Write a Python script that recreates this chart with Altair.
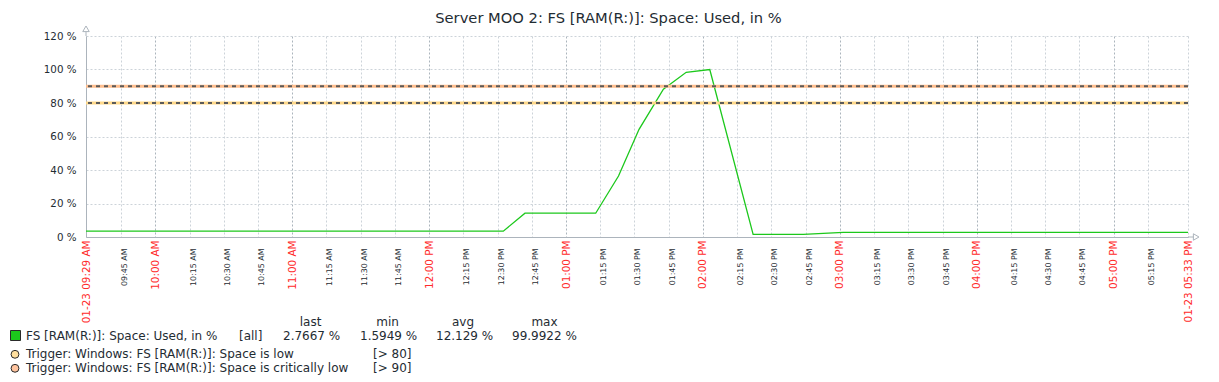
import altair as alt
import pandas as pd

DAY = "2024-01-23"
TITLE = "Server MOO 2: FS [RAM(R:)]: Space: Used, in %"

# ---- series ----
times = ["09:29:36", "12:32:30", "12:42:00", "13:13:00", "13:23:00", "13:32:00",
         "13:42:40", "13:52:40", "14:03:00", "14:22:00", "14:44:00", "15:01:30", "17:32:36"]
used_pct = [3.5, 3.5, 14.2, 14.2, 36.4, 64.3, 88.2, 98.3, 99.9922, 1.5949, 1.6, 2.7667, 2.7667]

# ---- axes ----
y_ticks = [0, 20, 40, 60, 80, 100, 120]
x_ticks = ["09:45", "10:00", "10:15", "10:30", "10:45", "11:00", "11:15", "11:30", "11:45",
           "12:00", "12:15", "12:30", "12:45", "13:00", "13:15", "13:30", "13:45",
           "14:00", "14:15", "14:30", "14:45", "15:00", "15:15", "15:30", "15:45",
           "16:00", "16:15", "16:30", "16:45", "17:00", "17:15"]
start_label = "01-23 09:29 AM"
end_label = "01-23 05:33 PM"

# ---- legend ----
series_name = "FS [RAM(R:)]: Space: Used, in %"
series_scope = "[all]"
stat_names = ["last", "min", "avg", "max"]
stat_values = ["2.7667 %", "1.5949 %", "12.129 %", "99.9922 %"]
trigger_names = ["Trigger: Windows: FS [RAM(R:)]: Space is low",
                 "Trigger: Windows: FS [RAM(R:)]: Space is critically low"]
trigger_values = [80, 90]
trigger_labels = ["[> 80]", "[> 90]"]

FONT = "DejaVu Sans"
DARK = "#1f2c33"
RED = "#ff2b2b"
GREEN = "#1cc81c"
AXIS = "#acb4bc"
GRID = "#ccd3d9"
GRID_MAJOR = "#abb4bc"
TRIG_FILL = ["#ffdf9e", "#ffc49f"]
TRIG_LINE = ["#ffd98a", "#ffbe8e"]


def dt(t):
    h, m, *s = [int(v) for v in t.split(":")]
    return alt.DateTime(year=2024, month=1, date=23, hours=h, minutes=m,
                        seconds=s[0] if s else 0)


def stamp(t):
    return f"{DAY} {t}" if t.count(":") == 2 else f"{DAY} {t}:00"


df = pd.DataFrame({"time": [stamp(t) for t in times], "value": used_pct})

x_scale = alt.Scale(domain=[dt(times[0]), dt(times[-1])], nice=False)
y_scale = alt.Scale(domain=[y_ticks[0], y_ticks[-1]], nice=False)

early = "time(datetime(2024,0,23,9,30))"
late = "time(datetime(2024,0,23,17,30))"
major = f"minutes(datum.value) == 0 || datum.value < {early} || datum.value > {late}"
hour = "minutes(datum.value) == 0"

x_axis = alt.Axis(
    values=[dt(times[0])] + [dt(t) for t in x_ticks] + [dt(times[-1])],
    labelExpr=(f"datum.value < {early} ? '{start_label}' : datum.value > {late} ? "
               f"'{end_label}' : timeFormat(datum.value, '%I:%M %p')"),
    labelAngle=-90,
    labelAlign="right",
    labelBaseline="middle",
    labelFont=FONT,
    labelColor={"condition": {"test": major, "value": RED}, "value": DARK},
    labelFontSize={"condition": {"test": major, "value": 10.4}, "value": 7.9},
    labelPadding={"condition": {"test": major, "value": 3}, "value": 11},
    labelOffset={"condition": {"test": major, "value": 0}, "value": 3.5},
    labelOverlap=False,
    labelFlush=False,
    ticks=False,
    tickSize=0,
    domainColor=AXIS,
    domainWidth=1,
    grid=True,
    gridColor={"condition": {"test": hour, "value": GRID_MAJOR}, "value": GRID},
    gridDash=[2, 2],
    gridWidth=1,
    title=None,
)

y_axis = alt.Axis(
    values=y_ticks,
    labelExpr="datum.value + ' %'",
    labelFont=FONT,
    labelFontSize=10.3,
    labelColor=DARK,
    labelPadding=10,
    labelOverlap=False,
    ticks=False,
    tickSize=0,
    domainColor=AXIS,
    domainWidth=1,
    grid=True,
    gridColor=GRID,
    gridDash=[2, 2],
    gridWidth=1,
    title=None,
)


def X(field):
    return alt.X(field, scale=x_scale, axis=x_axis)


def Y(field):
    return alt.Y(field, scale=y_scale, axis=y_axis)


line = alt.Chart(df).mark_line(color=GREEN, strokeWidth=1.3).encode(
    x=X("time:T"),
    y=Y("value:Q"),
)

trig_df = pd.DataFrame({"value": trigger_values, "name": trigger_names})
trig_base = alt.Chart(trig_df).mark_rule(strokeWidth=3).encode(
    y=Y("value:Q"),
    color=alt.Color("name:N", scale=alt.Scale(domain=trigger_names, range=TRIG_LINE), legend=None),
)
trig_dash = alt.Chart(trig_df).mark_rule(strokeWidth=2, color="#5a5a5a", strokeDash=[4, 4]).encode(
    y=Y("value:Q"),
)

# axis arrows
t_end = pd.Timestamp(stamp(times[-1]))
yarrow_df = pd.DataFrame({"time": [stamp(times[0])], "y": [120], "y2": [122.5], "tip": [124.3]})
xarrow_df = pd.DataFrame({"time": [stamp(times[-1])],
                          "time2": [(t_end + pd.Timedelta(seconds=150)).strftime("%Y-%m-%d %H:%M:%S")],
                          "tip": [(t_end + pd.Timedelta(seconds=215)).strftime("%Y-%m-%d %H:%M:%S")],
                          "y": [0]})
y_ext = alt.Chart(yarrow_df).mark_rule(color=AXIS, strokeWidth=1).encode(
    x=X("time:T"), y=Y("y:Q"), y2="y2:Q")
y_tip = alt.Chart(yarrow_df).mark_point(shape="triangle-up", filled=False, color=AXIS, size=42,
                                        strokeWidth=1, opacity=1).encode(
    x=X("time:T"), y=Y("tip:Q"))
x_ext = alt.Chart(xarrow_df).mark_rule(color=AXIS, strokeWidth=1).encode(
    x=X("time:T"), x2="time2:T", y=Y("y:Q"))
x_tip = alt.Chart(xarrow_df).mark_point(shape="triangle-right", filled=False, color=AXIS, size=42,
                                        strokeWidth=1, opacity=1).encode(
    x=X("tip:T"), y=Y("y:Q"))


def txt(text, x, y, size=12, align="left", color=DARK):
    return alt.Chart(pd.DataFrame({"t": [text]})).mark_text(
        align=align, baseline="middle", font=FONT, fontSize=size, color=color
    ).encode(x=alt.value(x), y=alt.value(y), text="t:N")


layers = [line, trig_base, trig_dash, y_ext, y_tip, x_ext, x_tip]

# title
layers.append(txt(TITLE, 522.5, -17, size=14.7, align="center"))

# legend header + series row
stat_centers = [224.6, 301.5, 377, 458.5]
stat_starts = [197, 274, 350, 426]
for name, cx in zip(stat_names, stat_centers):
    layers.append(txt(name, cx, 286, align="center"))
layers.append(
    alt.Chart(pd.DataFrame({"t": [series_name]})).mark_square(
        size=100, fill=GREEN, stroke="#2a2a2a", strokeWidth=1, opacity=1
    ).encode(x=alt.value(-70.5), y=alt.value(299.5))
)
layers.append(txt(series_name, -60, 299.5))
layers.append(txt(series_scope, 153, 299.5))
for v, sx in zip(stat_values, stat_starts):
    layers.append(txt(v, sx, 299.5))

# trigger rows
for i, (nm, lb) in enumerate(zip(trigger_names, trigger_labels)):
    yy = 318.3 + i * 14
    layers.append(
        alt.Chart(pd.DataFrame({"t": [nm]})).mark_circle(
            size=62, fill=TRIG_FILL[i], stroke="#2a2a2a", strokeWidth=1, opacity=1
        ).encode(x=alt.value(-71), y=alt.value(yy))
    )
    layers.append(txt(nm, -60, yy))
    layers.append(txt(lb, 287, yy))

chart = alt.layer(*layers).properties(
    width=1102,
    height=201,
    padding={"left": 78, "top": 28, "right": 16, "bottom": 139},
    autosize=alt.AutoSizeParams(type="none"),
    background="white",
).configure_view(stroke=None)

chart.save("out.html", embed_options={"renderer": "svg", "actions": False})
